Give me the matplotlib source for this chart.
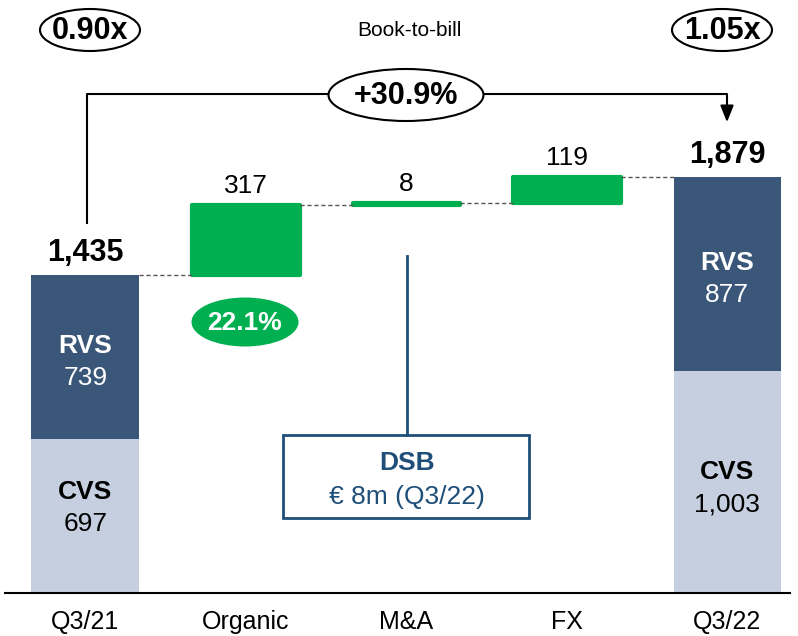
import matplotlib.pyplot as plt
from matplotlib.patches import Ellipse, Rectangle

plt.rcParams['font.family'] = ['Liberation Sans', 'DejaVu Sans']

categories = ['Q3/21', 'Organic', 'M&A', 'FX', 'Q3/22']
cvs = [697, 1003]
rvs = [739, 877]
totals = [1435, 1879]
deltas = [317, 8, 119]
book_to_bill = ['0.90x', '1.05x']
growth = '+30.9%'
organic_pct = '22.1%'

dark_blue = '#3A5779'
light_blue = '#C5CFE0'
green = '#00AF50'
box_blue = '#1F4E79'

fig = plt.figure(figsize=(7.98, 6.36), dpi=100)
ax = fig.add_axes([5 / 798, 43 / 636, 785 / 798, 593 / 636])
ax.set_xlim(-0.5, 4.39)
ax.set_ylim(0, 593 / 0.2214)

w = 0.67
cvs_shift = [6, -4]  # label nudges (points) inside the CVS segments
for i, idx in enumerate([0, 4]):
    ax.bar(idx, cvs[i], width=w, color=light_blue)
    ax.bar(idx, rvs[i], width=w, bottom=cvs[i], color=dark_blue)
    mid = cvs[i] + rvs[i] / 2
    ax.annotate('RVS', (idx, mid), xytext=(0, 8), textcoords='offset points',
                ha='center', va='center', color='white', fontsize=19, fontweight='bold')
    ax.annotate(f'{rvs[i]:,}', (idx, mid), xytext=(0, -15), textcoords='offset points',
                ha='center', va='center', color='white', fontsize=19)
    ax.annotate('CVS', (idx, cvs[i] / 2), xytext=(0, cvs_shift[i] + 11), textcoords='offset points',
                ha='center', va='center', color='black', fontsize=19, fontweight='bold')
    ax.annotate(f'{cvs[i]:,}', (idx, cvs[i] / 2), xytext=(0, cvs_shift[i] - 12), textcoords='offset points',
                ha='center', va='center', color='black', fontsize=19)
    ax.annotate(f'{totals[i]:,}', (idx, totals[i]), xytext=(0, 5), textcoords='offset points',
                ha='center', va='bottom', fontsize=22, fontweight='bold')

level = totals[0]
prev_right = 0 + w / 2
for j, d in enumerate(deltas):
    x = j + 1
    ax.bar(x, d, width=w, bottom=level, color=green, edgecolor=green, linewidth=3, joinstyle='round')
    ax.plot([prev_right, x - w / 2], [level, level], color='#555555', lw=1, ls=(0, (3, 2)))
    ax.annotate(f'{d:,}', (x, level + d), xytext=(0, 5), textcoords='offset points',
                ha='center', va='bottom', fontsize=19)
    level += d
    prev_right = x + w / 2
ax.plot([prev_right, 4 - w / 2], [level, level], color='#555555', lw=1, ls=(0, (3, 2)))

for s in ['top', 'right', 'left']:
    ax.spines[s].set_visible(False)
ax.spines['bottom'].set_linewidth(1.5)
ax.set_yticks([])
ax.set_xticks(range(5))
ax.set_xticklabels(categories, fontsize=18)
ax.tick_params(axis='x', length=0, pad=12)

# callouts drawn in pixel coordinates
ov = fig.add_axes([0, 0, 1, 1])
ov.set_xlim(0, 798)
ov.set_ylim(636, 0)
ov.axis('off')

for cx, txt in zip([90, 722], book_to_bill):
    ov.add_patch(Ellipse((cx, 30), 100, 42, fc='white', ec='black', lw=1.5))
    ov.text(cx, 31, txt, ha='center', va='center', fontsize=22, fontweight='bold')
ov.text(409, 30, 'Book-to-bill', ha='center', va='center', fontsize=15)

ov.plot([87, 87, 727, 727], [223, 94, 94, 110], color='black', lw=1.5)
ov.annotate('', xy=(727, 125), xytext=(727, 105),
            arrowprops=dict(arrowstyle='-|>,head_length=1.0,head_width=0.4', color='black', lw=1.5))
ov.add_patch(Ellipse((406, 95), 155, 52, fc='white', ec='black', lw=1.5, zorder=3))
ov.text(406, 96, growth, ha='center', va='center', fontsize=22, fontweight='bold', zorder=4)

ov.add_patch(Ellipse((245, 322), 107, 49, fc=green, ec='none'))
ov.text(245, 323, organic_pct, ha='center', va='center', fontsize=19, fontweight='bold', color='white')

ov.plot([407, 407], [256, 435], color=box_blue, lw=2)
ov.add_patch(Rectangle((283, 435), 246, 83, fc='white', ec=box_blue, lw=2))
ov.text(407, 463, 'DSB', ha='center', va='center', fontsize=19, fontweight='bold', color=box_blue)
ov.text(407, 497, '€ 8m (Q3/22)', ha='center', va='center', fontsize=19, color=box_blue)

fig.savefig('out.png', dpi=100)
